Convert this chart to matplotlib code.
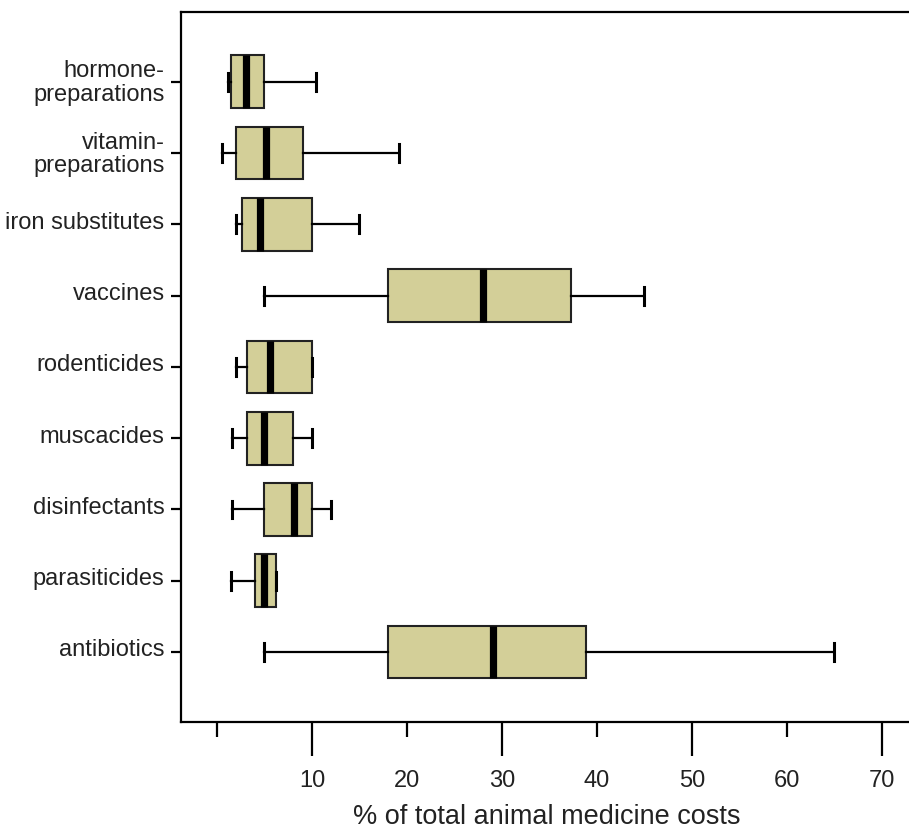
import matplotlib.pyplot as plt
import matplotlib.transforms as mtransforms

categories = ["antibiotics", "parasiticides", "disinfectants", "muscacides",
              "rodenticides", "vaccines", "iron substitutes",
              "vitamin-\npreparations", "hormone-\npreparations"]
whis_lo = [4.95, 1.5, 1.6, 1.6, 2.0, 4.95, 2.0, 0.5, 1.2]
q1 = [18.0, 4.0, 4.95, 3.2, 3.2, 18.0, 2.6, 2.0, 1.5]
median = [29.0, 4.9, 8.1, 4.9, 5.6, 28.0, 4.5, 5.2, 3.05]
q3 = [38.8, 6.2, 10.0, 8.0, 10.0, 37.3, 10.0, 9.05, 4.95]
whis_hi = [65.0, 6.2, 12.0, 10.0, 10.0, 44.9, 14.9, 19.2, 10.4]

major_ticks = [10, 30, 50, 70]
minor_ticks = [0, 20, 40, 60]
minor_labels = ["", "20", "40", "60"]

font = ["Liberation Sans", "DejaVu Sans"]
text_color = "#222222"

fig = plt.figure(figsize=(9.09, 8.31), dpi=100)
ax = fig.add_axes([181 / 909, 109 / 831, 731 / 909, 710 / 831])

stats = []
for i in range(len(categories)):
    stats.append(dict(whislo=whis_lo[i], q1=q1[i], med=median[i],
                      q3=q3[i], whishi=whis_hi[i], fliers=[]))

ax.bxp(stats, positions=range(1, len(categories) + 1), vert=False,
       widths=0.74, capwidths=0.25, patch_artist=True,
       boxprops=dict(facecolor="#d3cf98", edgecolor="#222222", linewidth=1.5),
       medianprops=dict(color="black", linewidth=5.2, solid_capstyle="butt"),
       whiskerprops=dict(color="black", linewidth=1.6),
       capprops=dict(color="black", linewidth=2.2))

ax.set_xlim(-3.8, 73.16)
ax.set_ylim(0.0175, 9.98)

# y labels
ax.set_yticks(range(1, len(categories) + 1))
ax.set_yticklabels(categories, fontsize=17, color=text_color,
                   family=font, linespacing=1.08)
ax.tick_params(axis="y", length=7.5, width=1.6, pad=4.3)
for lab in ax.get_yticklabels():
    dy = 1.5 if "\n" in lab.get_text() else 3.0
    offset = mtransforms.ScaledTranslation(0, dy / 72, fig.dpi_scale_trans)
    lab.set_transform(lab.get_transform() + offset)

# x ticks: long ones at 10/30/50/70, short ones between
ax.set_xticks(major_ticks)
ax.set_xticklabels([str(t) for t in major_ticks])
ax.set_xticks(minor_ticks, minor=True)
ax.set_xticklabels(minor_labels, minor=True)
ax.tick_params(axis="x", which="major", length=24.5, width=1.6, pad=10)
ax.tick_params(axis="x", which="minor", length=10.5, width=1.6, pad=24)
for lab in ax.get_xticklabels() + ax.get_xticklabels(minor=True):
    lab.set_fontsize(17)
    lab.set_family(font)
    lab.set_color(text_color)

ax.set_xlabel("% of total animal medicine costs", fontsize=19.5,
              family=font, color=text_color, va="baseline")
ax.xaxis.set_label_coords(0.5, (7 - 109) / 710)

for s in ["left", "bottom", "top"]:
    ax.spines[s].set_linewidth(1.6)
ax.spines["right"].set_visible(False)

fig.savefig("out.png", dpi=100)
